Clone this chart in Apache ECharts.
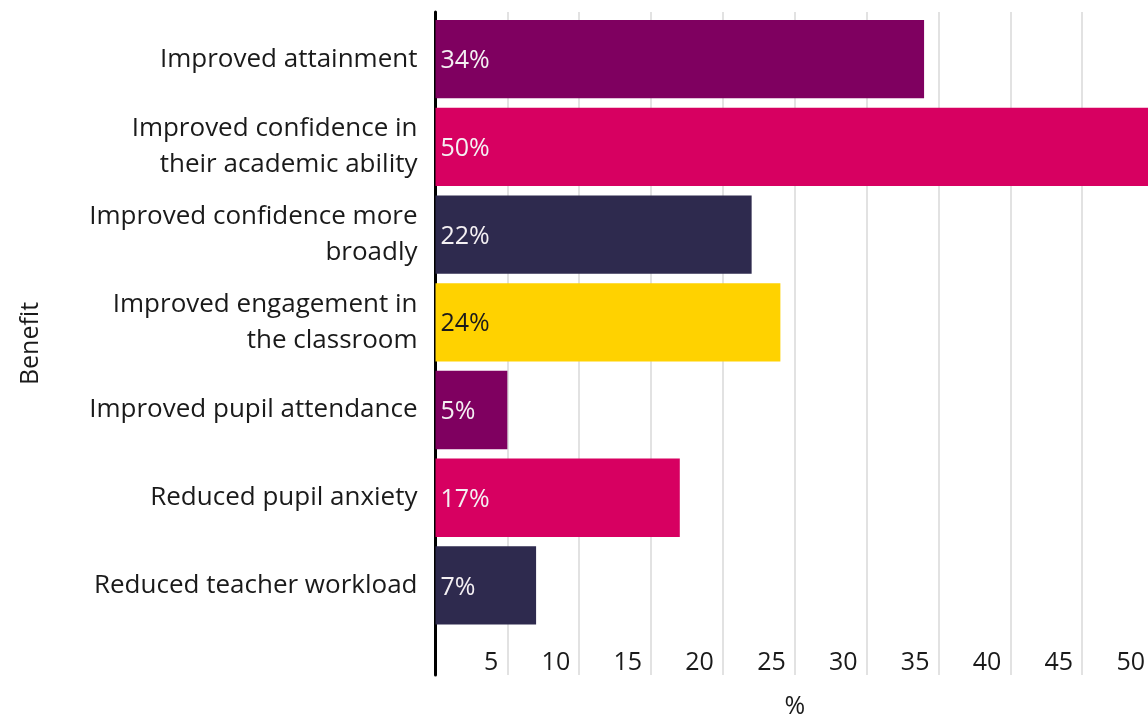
<!DOCTYPE html>
<html>
<head>
<meta charset="utf-8">
<script src="https://cdn.jsdelivr.net/npm/echarts@6/dist/echarts.min.js"></script>
<style>
  html, body { margin: 0; padding: 0; background: #ffffff; overflow: hidden; }
  /* the plot runs a few pixels past the right edge of the page */
  #chart { width: 1160px; height: 718px; }
</style>
</head>
<body>
<div id="chart"></div>
<script>
// Reported benefits, share of respondents (%)
const categories = [
  'Improved attainment',
  'Improved confidence in\ntheir academic ability',
  'Improved confidence more\nbroadly',
  'Improved engagement in\nthe classroom',
  'Improved pupil attendance',
  'Reduced pupil anxiety',
  'Reduced teacher workload'
];
const values = [34, 50, 22, 24, 5, 17, 7];
const barColors = ['#7f0060', '#d70061', '#2e2a4e', '#ffd200', '#7f0060', '#d70061', '#2e2a4e'];
const labelColors = ['#f4f0f3', '#f4f0f3', '#f4f0f3', '#1a1a1a', '#f4f0f3', '#f4f0f3', '#f4f0f3'];
const xTicks = { min: 0, max: 50, interval: 5 };

const FONT = '"Open Sans", "DejaVu Sans", sans-serif';
const chart = echarts.init(document.getElementById('chart'), null, { renderer: 'canvas' });

chart.setOption({
  backgroundColor: '#ffffff',
  animation: false,
  textStyle: { fontFamily: FONT },
  grid: [
    // frame: gridlines, tick labels, axis titles
    { left: 435.5, width: 718.5, top: 12, bottom: 43, containLabel: false, outerBoundsMode: 'none' },
    // bars
    { left: 435.5, width: 718.5, top: 15.3, bottom: 88.7, containLabel: false, outerBoundsMode: 'none' }
  ],
  xAxis: [
    {
      gridIndex: 0, type: 'value',
      min: xTicks.min, max: xTicks.max, interval: xTicks.interval,
      name: '%', nameLocation: 'middle', nameGap: 19,
      nameTextStyle: { fontFamily: FONT, fontSize: 25, color: '#1a1a1a' },
      axisLine: { show: false }, axisTick: { show: false },
      splitLine: { show: true, lineStyle: { color: '#d9d9d9', width: 1.5 } },
      axisLabel: {
        inside: true, margin: 0, showMinLabel: false,
        align: 'right', padding: [0, 9, 0, 0],
        fontFamily: FONT, fontSize: 25, color: '#1a1a1a'
      }
    },
    {
      gridIndex: 1, type: 'value',
      min: xTicks.min, max: xTicks.max, interval: xTicks.interval,
      show: false
    }
  ],
  yAxis: [
    {
      gridIndex: 0, type: 'value', min: 0, max: 1,
      name: 'Benefit', nameLocation: 'middle', nameGap: 392, nameRotate: 90,
      nameTextStyle: { fontFamily: FONT, fontSize: 25, color: '#1a1a1a' },
      axisLine: { show: true, lineStyle: { color: '#000000', width: 3 } },
      axisTick: { show: false }, axisLabel: { show: false }, splitLine: { show: false }
    },
    {
      gridIndex: 1, type: 'category', inverse: true, data: categories,
      axisLine: { show: false }, axisTick: { show: false },
      axisLabel: {
        margin: 18, align: 'right',
        fontFamily: FONT, fontSize: 26, lineHeight: 36, color: '#1a1a1a',
        padding: [4, 0, 0, 0]
      }
    }
  ],
  series: [{
    type: 'bar',
    xAxisIndex: 1, yAxisIndex: 1,
    barCategoryGap: '10.7%',
    data: values.map((v, i) => ({
      value: v,
      itemStyle: { color: barColors[i] },
      label: { color: labelColors[i] }
    })),
    label: {
      show: true, position: 'insideLeft', distance: 5,
      formatter: '{c}%',
      fontFamily: FONT, fontSize: 25,
      offset: [0, 2]
    }
  }]
});
</script>
</body>
</html>
